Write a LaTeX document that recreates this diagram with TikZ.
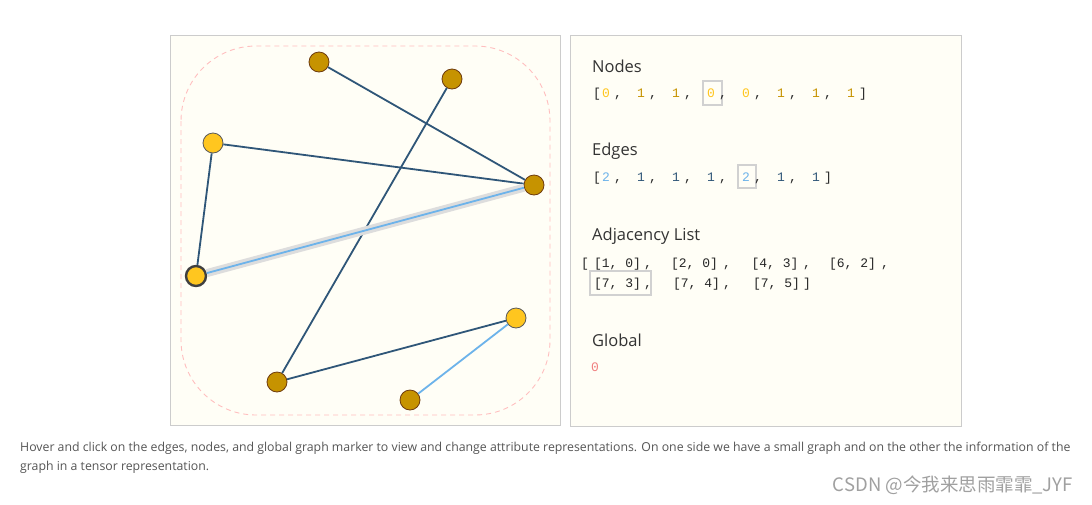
\documentclass[tikz,border=0pt]{standalone}
\usepackage{fontspec}
\setmainfont{Open Sans}
\setmonofont{Liberation Mono}
\newfontfamily\cjkfont{Noto Sans CJK SC}

\definecolor{panelfill}{HTML}{FFFEF6}
\definecolor{panelline}{HTML}{CCCCCC}
\definecolor{nodeone}{HTML}{C69300}
\definecolor{nodeoneline}{HTML}{6E3B0E}
\definecolor{nodezero}{HTML}{FFC61F}
\definecolor{edgeone}{HTML}{2F5678}
\definecolor{edgetwo}{HTML}{6DB3EA}
\definecolor{halo}{HTML}{DDDDDD}
\definecolor{bubble}{HTML}{FFBFBF}
\definecolor{globalred}{HTML}{F08080}
\definecolor{captiongray}{HTML}{555555}
\definecolor{markgray}{HTML}{A0A0A0}

\begin{document}
\begin{tikzpicture}[
  x=1pt, y=-1pt,
  panel/.style = {draw=panelline, fill=panelfill, line width=0.8pt},
  vtx/.style = {circle, minimum size=20pt, inner sep=0pt, draw=nodeoneline, line width=0.8pt, fill=nodeone},
  vtxzero/.style = {vtx, fill=nodezero, draw=black!65},
  link/.style = {draw=edgeone, line width=1.8pt},
  linktwo/.style = {draw=edgetwo, line width=1.8pt},
  title/.style = {anchor=base west, inner sep=0pt, text=black!80, font=\fontsize{16.5}{18}\selectfont},
  entry/.style = {anchor=base, inner sep=0pt, text=black!85, font=\ttfamily\fontsize{13}{15}\selectfont},
  pick/.style = {draw=black!18, line width=1.6pt, inner sep=0pt},
  caption/.style = {anchor=base west, inner sep=0pt, text=captiongray, font=\fontsize{12.3}{14}\selectfont}
]
  \useasboundingbox[fill=white] (0,0) rectangle (1092,504);

  % the two panels
  \draw[panel] (170,35) rectangle (560,425);
  \draw[panel] (570,35) rectangle (961,426);
  \draw[bubble, line width=0.9pt, dash pattern=on 5pt off 4pt, rounded corners=75pt] (181,46) rectangle (550,415);

  % small graph
  \node[vtx] (v0) at (319,62) {};
  \node[vtx] (v1) at (452,79) {};
  \node[vtxzero] (v2) at (213,143) {};
  \node[vtx] (v3) at (534,185) {};
  \node[vtxzero, draw=black!75, line width=2.4pt] (v4) at (196,276) {};
  \node[vtxzero] (v5) at (516,318) {};
  \node[vtx] (v6) at (277,382) {};
  \node[vtx] (v7) at (410,400) {};

  \draw[link] (v0) -- (v3);
  \draw[link] (v1) -- (v6);
  \draw[link] (v2) -- (v3);
  \draw[link] (v2) -- (v4);
  \draw[draw=halo, line width=8pt] (v4) -- (v3);
  \draw[linktwo] (v4) -- (v3);
  \draw[link] (v6) -- (v5);
  \draw[linktwo] (v5) -- (v7);

  % tensor side
  \node[title] (nodestitle) at (592,72) {Nodes};
  \node[pick, minimum width=19pt, minimum height=24pt] (nodespick) at (712.5,93) {};
  \node[entry] (nodesopen) at (597,97) {[};
  \foreach \v/\c [count=\i from 0] in {0/nodezero,1/nodeone,1/nodeone,0/nodezero,0/nodezero,1/nodeone,1/nodeone,1/nodeone}
    \node[entry, text=\c] (nv\i) at (606+35*\i,97) {\v};
  \foreach \i in {0,...,6}
    \node[entry] (nc\i) at (618+35*\i,97) {,};
  \node[entry] (nodesclose) at (863,97) {]};

  \node[title] (edgestitle) at (592,155) {Edges};
  \node[pick, minimum width=18pt, minimum height=23pt] (edgespick) at (747,176.5) {};
  \node[entry] (edgesopen) at (597,181) {[};
  \foreach \v/\c [count=\i from 0] in {2/edgetwo,1/edgeone,1/edgeone,1/edgeone,2/edgetwo,1/edgeone,1/edgeone}
    \node[entry, text=\c] (ev\i) at (606+35*\i,181) {\v};
  \foreach \i in {0,...,5}
    \node[entry] (ec\i) at (618+35*\i,181) {,};
  \node[entry] (edgesclose) at (828,181) {]};

  \node[title] (adjtitle) at (592,240) {Adjacency List};
  \node[entry] (adjopen) at (585,267) {[};
  \node[entry] (a0) at (617.5,267) {[1, 0]};
  \node[entry] (a1) at (694.5,267) {[2, 0]};
  \node[entry] (a2) at (775,267) {[4, 3]};
  \node[entry] (a3) at (852.5,267) {[6, 2]};
  \foreach \x [count=\i from 0] in {648,727,807,885}
    \node[entry] (ac\i) at (\x,267) {,};
  \node[pick, minimum width=61pt, minimum height=24pt] (adjpick) at (620.5,283) {};
  \node[entry] (a4) at (617.5,287) {[7, 3]};
  \node[entry] (a5) at (696.5,287) {[7, 4]};
  \node[entry] (a6) at (776.5,287) {[7, 5]};
  \node[entry] (ac4) at (648,287) {,};
  \node[entry] (ac5) at (727,287) {,};
  \node[entry] (adjclose) at (807,287) {]};

  \node[title] (globaltitle) at (592,346) {Global};
  \node[entry, text=globalred] (globalval) at (595,371) {0};

  % caption and mark
  \node[caption] (cap1) at (20,451) {Hover and click on the edges, nodes, and global graph marker to view and change attribute representations. On one side we have a small graph and on the other the information of the};
  \node[caption] (cap2) at (20,470) {graph in a tensor representation.};
  \node[anchor=base east, inner sep=0pt, text=markgray, font=\cjkfont\fontsize{18.5}{20}\selectfont] (mark) at (1073,491) {CSDN @今我来思雨霏霏\_JYF};
\end{tikzpicture}
\end{document}
